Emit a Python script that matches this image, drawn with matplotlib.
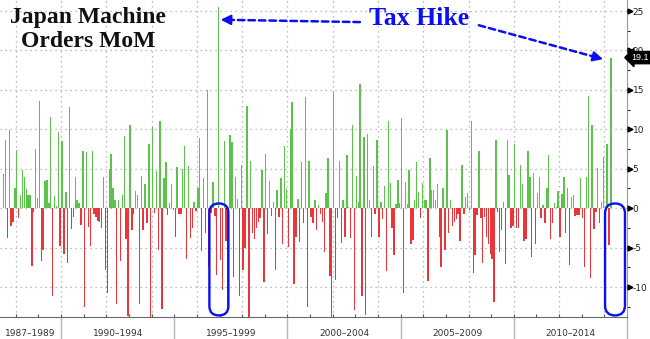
import numpy as np
import pandas as pd
import matplotlib
matplotlib.use("Agg")
import matplotlib.pyplot as plt
from matplotlib.patches import FancyBboxPatch
from matplotlib.ticker import MultipleLocator
from matplotlib.transforms import blended_transform_factory

plt.rcParams["axes.unicode_minus"] = False

# monthly % change, Jun 1987 onwards
start_month = "1987-06"
mom_change = [
    4.3, 8.7, -3.8, 9.9, -2.2, -1.7, 2.5, 7.4, -1.2, 1.7,
    4.9, 3.9, 2.4, 1.7, 1.7, -7.3, -0.5, 7.5, 1.3, 13.6,
    -6.7, -5.3, 3.5, 3.6, 0.6, 11.5, -11.1, 1.6, 0.3, 9.7,
    -4.8, 8.5, -5.8, 2.0, -6.9, 12.8, -2.6, -1.1, 3.9, 1.0,
    0.6, -2.1, 7.3, -12.5, 7.1, -2.4, -4.8, 7.2, -0.8, -1.1,
    -1.6, -1.7, -2.5, 3.9, -7.8, -10.7, 5.0, 6.9, 2.5, 1.0,
    -12.1, 1.0, -6.7, 1.7, 9.2, -3.9, -13.7, 10.5, -2.8, -0.7,
    2.2, 1.7, -12.2, 4.1, -2.8, 3.1, -1.9, 8.2, -13.8, 10.3,
    -0.6, 4.7, -5.3, 11.1, -12.8,
    3.8, 5.8, -0.9, 0.6, 3.1, -0.2, -3.7, 5.2, -0.7, -0.8,
    5.0, 7.9, -6.5, 5.4, -3.8, -2.5, 0.8, -0.3, 2.6, 8.9,
    -5.4, 3.8, -3.2, 15.0, -7.5, -0.6, 3.3, -1.0, -8.5, 25.5,
    -6.6, -10.4, 8.5, -4.1, -12.5, 9.3, 8.4, -8.7, 4.0, 1.2,
    -11.1, 5.5, -7.9, -5.1, 13.0, -13.8, 6.0, -3.2, -3.9, -2.5,
    -1.7, -1.2, 4.9, -9.4, 6.9, -3.3, 3.4, -1.0, 0.8, -7.8,
    2.3, -1.1, 3.8, -4.5, 7.9, 2.4, -4.9, 10.1, 13.5, -9.6,
    -3.6, 1.2, -4.3, 5.8, -1.9, 14.1, -12.5, 6.0, -1.1, -1.9,
    1.1, -2.8,
    0.4, -0.7, -1.7, -5.5, 1.9, 6.4, -8.6, -13.8, 14.7, -9.1,
    -1.2, 6.0, -4.4, 1.0, -3.7, 6.7, 0.1, -3.8, 10.5, -12.9,
    4.1, 0.8, 15.8, -11.2, 9.0, -13.5, 9.4, 1.1, -3.7, 5.4,
    -0.8, 8.7, -3.6, 0.8, -1.4, 2.8, -8.0, 11.0, 3.2, -2.5,
    -6.0, 0.5, 3.6, 0.6, 11.4, -10.8, 3.3, 0.5, 4.9, -4.6,
    -4.0, 1.1, 5.8, 2.1, -1.2, 3.2, 1.0, 1.0, -9.2, 6.4,
    2.3, 2.3, 1.1, 3.1, -3.6, -7.4, 2.6, -5.3, 9.9, -3.2,
    1.0, -2.2, -1.7, -1.4, -0.8, -4.2, 5.5, -0.7, 1.4, 1.9,
    -0.2, 11.0,
    -8.2, -5.9, -0.9, 7.2, -1.3, -7.0, -1.1, -3.6, -4.5, -5.8,
    -6.5, -11.9, 8.7, -0.5, -5.6, -2.8, 0.8, -7.1, 8.7, 4.2,
    -2.5, -2.2, 8.1, -2.5, -2.5, 5.5, 3.1, -4.1, -3.9, 7.2,
    4.0, -6.2, 4.5, -4.5, 1.9, 3.9, -1.2, 0.4, -1.9, 2.6,
    6.7, -3.9, -1.9, 0.6, 0.1, 2.2, -3.6, 1.8, 4.0, -3.1,
    2.5, -7.2, 1.4, 1.7, -1.0, -0.9, -0.9, 3.8, -1.3, -7.5,
    4.0, 14.2, -8.8, 10.5, -2.7, -0.5, 5.1, -1.9, 0.8, 6.5,
    -12.1, 8.1, -4.7, 19.1,
]

band_edges = [1987.3, 1990, 1995, 2000, 2005, 2010, 2015]
band_labels = ["1987–1989", "1990–1994", "1995–1999",
               "2000–2004", "2005–2009", "2010–2014"]
y_ticks = [-10, -5, 0, 5, 10, 15, 20, 25]

GREEN = "#5cc24c"
RED = "#e8363a"
BLUE = "#0a10ee"

months = pd.date_range(start_month, periods=len(mom_change), freq="MS")
x = np.asarray(months.year + (months.month - 0.5) / 12.0)
vals = np.array(mom_change)
colors = np.where(vals >= 0, GREEN, RED)

fig = plt.figure(figsize=(6.5, 3.39), dpi=100)
ax = fig.add_axes([0, 22 / 339, 627 / 650, 317 / 339])

ax.bar(x, vals, width=0.062, color=colors, linewidth=0, zorder=2)
ax.set_xlim(band_edges[0], band_edges[-1])
ax.set_ylim(-13.8, 26.4)

# dotted grid
ax.set_yticks(y_ticks)
ax.yaxis.grid(True, linestyle=(0, (1, 3)), color="#a8a8a8", linewidth=0.9, zorder=0)
for yr in range(1988, 2015, 2):
    ax.axvline(yr, linestyle=(0, (1, 3)), color="#a8a8a8", linewidth=0.9, zorder=0)

# yearly ticks along the bottom, no labels
ax.set_xticks(range(1988, 2015))
ax.tick_params(axis="x", direction="in", length=2.5, color="#555555", labelbottom=False)

# right-hand value axis
ax.yaxis.tick_right()
ax.yaxis.set_minor_locator(MultipleLocator(2.5))
ax.tick_params(axis="y", which="major", length=0, pad=4, labelsize=6.5, labelcolor="#222222")
ax.tick_params(axis="y", which="minor", length=2.5, width=0.8, color="#222222")
tr_right = blended_transform_factory(ax.transAxes, ax.transData)
ax.plot([1.005] * len(y_ticks), y_ticks, transform=tr_right, ls="none",
        marker=">", ms=3.5, color="black", clip_on=False, zorder=5)

for side in ("top", "left"):
    ax.spines[side].set_visible(False)
ax.spines["right"].set_color("#9a9a9a")
ax.spines["bottom"].set_color("#6a6a6a")

# period bands under the axis
tr_bottom = blended_transform_factory(ax.transData, ax.transAxes)
for edge in band_edges[1:]:
    ax.plot([edge, edge], [0, -22 / 317], transform=tr_bottom, color="#b8b8b8",
            linewidth=1.0, clip_on=False)
for lo, hi, lab in zip(band_edges[:-1], band_edges[1:], band_labels):
    ax.text((lo + hi) / 2, -17 / 317, lab, transform=tr_bottom, ha="center",
            va="center", fontsize=6.5, color="#333333")

# last value tag
ax.text(1.007, vals[-1], f"{vals[-1]:.1f}", transform=tr_right,
        ha="left", va="center", fontsize=6.5, color="white", family="Liberation Sans",
        clip_on=False, bbox=dict(boxstyle="larrow,pad=0.18", fc="black", ec="black"),
        zorder=6)

# titles
fig.text(88 / 650, 1 - 7 / 339, "Japan Machine\nOrders MoM", ha="center",
         va="top", fontsize=17, fontweight="bold", family="Liberation Serif",
         multialignment="center", linespacing=1.2, color="#111111")
ax.text(2003.6, 24.0, "Tax Hike", ha="left", va="center", fontsize=18.5,
        fontweight="bold", family="Liberation Serif", color=BLUE)

# dashed arrows from the label to the two spikes
dash = (0, (2.6, 1.6))
for tail, tip in [((2003.2, 23.6), (1997.05, 23.9)),
                  ((2008.45, 23.2), (2013.94, 18.9))]:
    ax.annotate("", xy=tip, xytext=tail,
                arrowprops=dict(arrowstyle="-", color=BLUE, lw=1.8, linestyle=dash,
                                shrinkA=0, shrinkB=3))
    head_from = (tip[0] + (tail[0] - tip[0]) * 0.08, tip[1] + (tail[1] - tip[1]) * 0.08)
    ax.annotate("", xy=tip, xytext=head_from,
                arrowprops=dict(arrowstyle="-|>,head_length=0.6,head_width=0.3",
                                color=BLUE, lw=1.5, shrinkA=0, shrinkB=0))

# rounded outlines around the post-hike drops
px_ratio = 22.6 / 7.88  # y units per x unit at equal pixel length
for x0, x1 in [(1996.55, 1997.39), (2014.03, 2014.91)]:
    w = x1 - x0
    box = FancyBboxPatch((x0, -13.6), w, 14.2,
                         boxstyle=f"round,pad=0,rounding_size={w / 2:.3f}",
                         mutation_aspect=px_ratio,
                         fill=False, ec=BLUE, lw=1.7, clip_on=False, zorder=4)
    ax.add_patch(box)

fig.savefig("out.png", dpi=100)
